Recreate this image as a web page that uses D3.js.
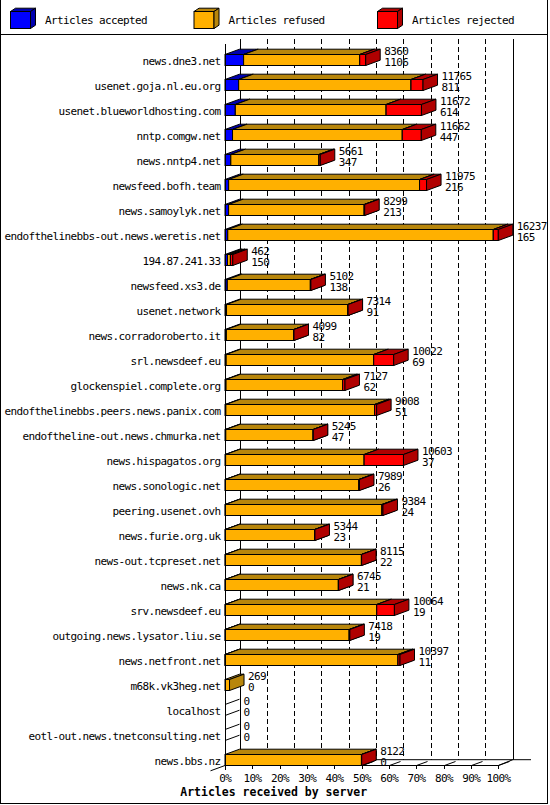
<!DOCTYPE html>
<html>
<head>
<meta charset="utf-8">
<script src="https://cdn.jsdelivr.net/npm/d3@7"></script>
<style>
  html, body { margin: 0; padding: 0; background: #fff; }
  svg { display: block; }
  text { font-family: "DejaVu Sans Mono", monospace; }
</style>
</head>
<body>
<svg id="chart" width="550" height="805"></svg>
<script>
const categories = [
  "news.dne3.net", "usenet.goja.nl.eu.org", "usenet.blueworldhosting.com", "nntp.comgw.net",
  "news.nntp4.net", "newsfeed.bofh.team", "news.samoylyk.net", "endofthelinebbs-out.news.weretis.net",
  "194.87.241.33", "newsfeed.xs3.de", "usenet.network", "news.corradoroberto.it",
  "srl.newsdeef.eu", "glockenspiel.complete.org", "endofthelinebbs.peers.news.panix.com",
  "endoftheline-out.news.chmurka.net", "news.hispagatos.org", "news.sonologic.net",
  "peering.usenet.ovh", "news.furie.org.uk", "news-out.tcpreset.net", "news.nk.ca",
  "srv.newsdeef.eu", "outgoing.news.lysator.liu.se", "news.netfront.net", "m68k.vk3heg.net",
  "localhost", "eotl-out.news.tnetconsulting.net", "news.bbs.nz"
];
const accepted = [1106, 811, 614, 447, 347, 216, 213, 165, 150, 138, 91, 82, 69, 62, 51, 47, 37, 26, 24, 23, 22, 21, 19, 19, 11, 0, 0, 0, 0];
const refused  = [6898, 10241, 8959, 10086, 5234, 11343, 8056, 15775, 172, 4934, 7208, 4007, 8765, 6928, 8838, 5188, 8230, 7923, 9300, 5301, 8083, 6714, 8996, 7359, 10267, 269, 0, 0, 8107];
const rejected = [356, 713, 2099, 1129, 80, 416, 30, 297, 140, 30, 15, 10, 1188, 137, 119, 10, 2336, 40, 60, 20, 10, 10, 1049, 40, 119, 0, 0, 0, 15];
const seriesNames = ["Articles accepted", "Articles refused", "Articles rejected"];
const tickLabels = ["0%", "10%", "20%", "30%", "40%", "50%", "60%", "70%", "80%", "90%", "100%"];
const tickValues = [0, 10, 20, 30, 40, 50, 60, 70, 80, 90, 100];
const xTitle = "Articles received by server";

const frontColors = ["#0000ff", "#ffb000", "#ff0000"];
const darkColors  = ["#0000b0", "#b8860b", "#b00000"];

const svg = d3.select("#chart");
const DX = 14.5, DY = -5.3;
const FONT = "11px", LS = "-0.62px";

const series = [accepted, refused, rejected];
const totals = categories.map((c, i) => accepted[i] + refused[i] + rejected[i]);
const maxTotal = d3.max(totals);

const x = d3.scaleLinear().domain([0, maxTotal]).range([225, 498.3]);
const xp = d3.scaleLinear().domain([0, 100]).range([225, 498.3]);
const y = d3.scaleBand().domain(categories).range([44, 44 + 25 * categories.length]).padding(0);

const floorY = 765;
const topY = 39;

// background
svg.append("rect").attr("width", 550).attr("height", 805).attr("fill", "#fff");

// borders
const g0 = svg.append("g").attr("stroke", "#000").attr("stroke-width", 1);
g0.append("line").attr("x1", 0.5).attr("x2", 0.5).attr("y1", 0).attr("y2", 804);
g0.append("line").attr("x1", 547.5).attr("x2", 547.5).attr("y1", 0).attr("y2", 804);
g0.append("line").attr("x1", 0).attr("x2", 548).attr("y1", 803.5).attr("y2", 803.5);
g0.append("line").attr("x1", 0).attr("x2", 548).attr("y1", 34.5).attr("y2", 34.5);

// legend
const legX = [10, 193.5, 377];
seriesNames.forEach((name, k) => {
  const lx = legX[k];
  const lg = svg.append("g").attr("stroke", "#000").attr("stroke-width", 1);
  lg.append("rect").attr("x", lx + 0.5).attr("y", 11.5).attr("width", 20).attr("height", 17)
    .attr("fill", frontColors[k]);
  lg.append("polygon").attr("points", [[lx + 0.5, 11.5], [lx + 20.5, 11.5], [lx + 25.5, 8.2], [lx + 5.5, 8.2]].join(" "))
    .attr("fill", darkColors[k]);
  lg.append("polygon").attr("points", [[lx + 20.5, 11.5], [lx + 25.5, 8.2], [lx + 25.5, 25.2], [lx + 20.5, 28.5]].join(" "))
    .attr("fill", darkColors[k]);
  svg.append("text").attr("x", lx + 35).attr("y", 24).attr("font-size", FONT)
    .attr("letter-spacing", LS).attr("fill", "#000").text(name);
});

// back gridlines (dashed)
const grid = svg.append("g").attr("stroke", "#000").attr("stroke-width", 1);
tickValues.slice(1, -1).forEach(t => {
  const bx = Math.round(xp(t) + DX) + 0.5;
  grid.append("line").attr("x1", bx).attr("x2", bx).attr("y1", topY).attr("y2", floorY + DY)
    .attr("stroke-dasharray", "5,3");
});
// back walls
const bl = Math.round(xp(0) + DX) + 0.5, br = Math.round(xp(100) + DX) + 0.5;
grid.append("line").attr("x1", bl).attr("x2", bl).attr("y1", topY).attr("y2", floorY + DY);
grid.append("line").attr("x1", br).attr("x2", br).attr("y1", topY).attr("y2", floorY + DY);
// floor lines
grid.append("line").attr("x1", bl).attr("x2", 531).attr("y1", floorY + DY).attr("y2", floorY + DY);
grid.append("line").attr("x1", xp(0)).attr("x2", xp(100)).attr("y1", floorY + 0.5).attr("y2", floorY + 0.5);
grid.append("line").attr("x1", xp(100)).attr("x2", xp(100) + DX).attr("y1", floorY + 0.5).attr("y2", floorY + DY);
grid.append("line").attr("x1", xp(0) - DX).attr("x2", xp(0)).attr("y1", floorY + 0.5 - DY).attr("y2", floorY + 0.5);
// floor tick depth marks
tickValues.forEach(t => {
  const fx = Math.round(xp(t)) + 0.5;
  grid.append("line").attr("x1", fx).attr("x2", fx + 11).attr("y1", floorY + 0.5).attr("y2", floorY - 3.5);
  grid.append("line").attr("x1", fx).attr("x2", fx).attr("y1", floorY).attr("y2", floorY + 4);
});

// bars
const bars = svg.append("g").attr("stroke", "#000").attr("stroke-width", 1);
categories.forEach((c, i) => {
  const center = y(c) + y.bandwidth() / 2;
  const ft = Math.round(center - 3) + 0.5;
  const fb = Math.round(center + 8) + 0.5;
  let cum = 0;
  const g = bars.append("g");
  if (totals[i] === 0) {
    const x0 = x(0);
    g.append("line").attr("x1", x0).attr("y1", ft).attr("x2", x0 + DX).attr("y2", ft + DY);
    g.append("line").attr("x1", x0).attr("y1", fb).attr("x2", x0 + DX).attr("y2", fb + DY);
  }
  series.forEach((s, k) => {
    const v = s[i];
    if (v <= 0) return;
    const x0 = x(cum), x1 = x(cum + v);
    cum += v;
    g.append("rect").attr("x", x0).attr("y", ft).attr("width", x1 - x0).attr("height", fb - ft)
      .attr("fill", frontColors[k]);
    g.append("polygon").attr("points", [[x0, ft], [x1, ft], [x1 + DX, ft + DY], [x0 + DX, ft + DY]].join(" "))
      .attr("fill", darkColors[k]);
    g.append("polygon").attr("points", [[x1, ft], [x1 + DX, ft + DY], [x1 + DX, fb + DY], [x1, fb]].join(" "))
      .attr("fill", darkColors[k]);
  });
  const lx = x(totals[i]) + DX + 4;
  svg.append("text").attr("x", lx).attr("y", ft).attr("font-size", FONT).attr("letter-spacing", LS)
    .attr("fill", "#000").text(totals[i]);
  svg.append("text").attr("x", lx).attr("y", fb + 0.5).attr("font-size", FONT).attr("letter-spacing", LS)
    .attr("fill", "#000").text(accepted[i]);
  svg.append("text").attr("x", 220.6).attr("y", fb - 1).attr("font-size", FONT).attr("letter-spacing", LS)
    .attr("text-anchor", "end").attr("fill", "#000").text(c);
});

// front y axis
svg.append("line").attr("x1", 225.5).attr("x2", 225.5).attr("y1", 44).attr("y2", 770)
  .attr("stroke", "#000").attr("stroke-width", 1);

// tick labels
tickValues.forEach((t, j) => {
  svg.append("text").attr("x", xp(t) + 0.3).attr("y", 781.5).attr("font-size", FONT).attr("letter-spacing", LS)
    .attr("text-anchor", "middle").attr("fill", "#000").text(tickLabels[j]);
});

// axis title
svg.append("text").attr("x", 273.7).attr("y", 796).attr("font-size", "11.5px").attr("font-weight", "bold")
  .attr("text-anchor", "middle").attr("fill", "#000").text(xTitle);
</script>
</body>
</html>
